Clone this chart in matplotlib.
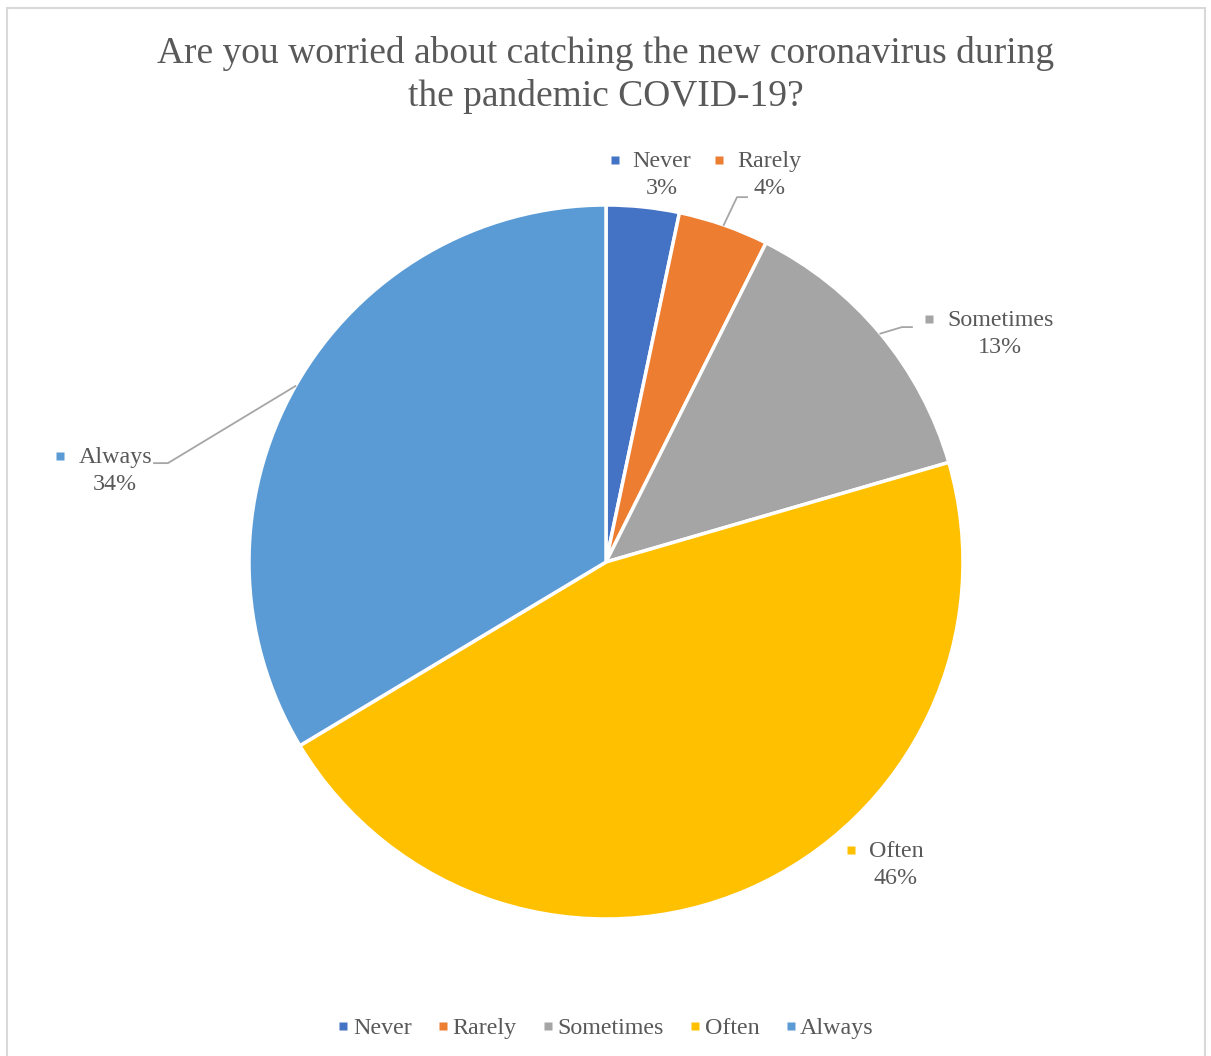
import matplotlib.pyplot as plt
import numpy as np
from matplotlib.lines import Line2D
from matplotlib.patches import Rectangle

plt.rcParams['font.family'] = ['Liberation Serif', 'DejaVu Serif']

# Survey answers (share of respondents, %)
categories = ['Never', 'Rarely', 'Sometimes', 'Often', 'Always']
shares = [3.3, 4.1, 13.1, 45.9, 33.6]
colors = ['#4472C4', '#ED7D31', '#A5A5A5', '#FFC000', '#5B9BD5']
title = 'Are you worried about catching the new coronavirus during\nthe pandemic COVID-19?'

# label centres (pie radius units) and leader-line elbows
label_pos = [(0.157, 1.084), (0.457, 1.084), (1.104, 0.639), (0.812, -0.849), (-1.375, 0.255)]
elbows = [None, [(0.367, 1.022), (0.395, 1.022)], [(0.829, 0.658), (0.857, 0.658)],
          None, [(-1.227, 0.277), (-1.266, 0.277)]]

text_col = '#595959'
W, H = 1211, 1056
fig = plt.figure(figsize=(W / 100, H / 100), dpi=100)

# chart frame
fig.patches.append(Rectangle((7 / W, -0.01), 1198 / W, (H - 8) / H + 0.01,
                             transform=fig.transFigure, fill=False,
                             edgecolor='#D9D9D9', lw=1.5))

cx, cy, r = 606, H - 562, 357
ax = fig.add_axes([(cx - r) / W, (cy - r) / H, 2 * r / W, 2 * r / H])
wedges, _ = ax.pie(shares, colors=colors, startangle=90, counterclock=False,
                   radius=1, wedgeprops=dict(edgecolor='white', linewidth=2.5))
ax.set_xlim(-1, 1)
ax.set_ylim(-1, 1)
ax.set_aspect('equal')
ax.axis('off')

fig.text(0.5, (H - 75) / H, title, ha='center', va='center', fontsize=27,
         color=text_col, linespacing=1.3)

name_texts = []
for w, cat, val, pos, elb, col in zip(wedges, categories, shares, label_pos, elbows, colors):
    x, y = pos
    t = ax.text(x, y + 0.037, cat, ha='center', va='center', fontsize=17.3,
                color=text_col, clip_on=False)
    ax.text(x, y - 0.037, f'{round(val):.0f}%', ha='center', va='center',
            fontsize=17.3, color=text_col, clip_on=False)
    name_texts.append((t, col))
    if elb is not None:
        th = np.deg2rad((w.theta1 + w.theta2) / 2)
        pts = [(np.cos(th), np.sin(th))] + elb
        xs, ys = zip(*pts)
        ax.plot(xs, ys, color='#A6A6A6', lw=1.3, clip_on=False)

# small colour squares before each category name
fig.canvas.draw()
rend = fig.canvas.get_renderer()
inv = ax.transData.inverted()
for t, col in name_texts:
    bb = t.get_window_extent(rend)
    mx, my = inv.transform((bb.x0 - 18, (bb.y0 + bb.y1) / 2 + 2))
    ax.plot(mx, my, marker='s', ms=5.5, color=col, mec='none', clip_on=False)

handles = [Line2D([], [], marker='s', ms=6, color=c, ls='none', mec='none') for c in colors]
fig.legend(handles, categories, loc='center', bbox_to_anchor=(0.5, 28 / H), ncol=5,
           frameon=False, fontsize=17.3, labelcolor=text_col, handlelength=0.5,
           handletextpad=0.15, columnspacing=1.05)

fig.savefig('out.png', dpi=100)
